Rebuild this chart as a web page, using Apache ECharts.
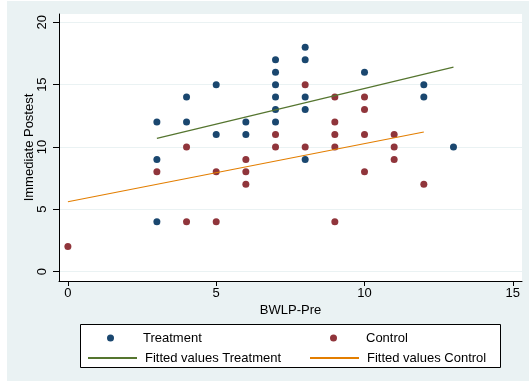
<!DOCTYPE html>
<html>
<head>
<meta charset="utf-8">
<script src="https://cdn.jsdelivr.net/npm/echarts@6/dist/echarts.min.js"></script>
<style>
  html, body { margin: 0; padding: 0; background: #fff; }
  #bg { position: absolute; left: 7px; top: 1px; width: 522px; height: 380px; background: #eaf2f3; }
  #chart { position: absolute; left: 0; top: 0; width: 529px; height: 381px; }
</style>
</head>
<body>
<div id="bg"></div>
<div id="chart"></div>
<script>
// BWLP-Pre vs Immediate Postest
const treatment = [
  [3, 12], [3, 9], [3, 4], [4, 14], [4, 12], [5, 15], [5, 11], [6, 12], [6, 11],
  [7, 17], [7, 16], [7, 15], [7, 14], [7, 13], [7, 12],
  [8, 18], [8, 17], [8, 14], [8, 13], [8, 9],
  [10, 16], [12, 15], [12, 14], [13, 10]
];
const control = [
  [0, 2], [3, 8], [4, 10], [4, 4], [5, 8], [5, 4], [6, 9], [6, 8], [6, 7],
  [7, 11], [7, 10], [8, 15], [8, 10],
  [9, 14], [9, 12], [9, 11], [9, 10], [9, 4],
  [10, 14], [10, 13], [10, 11], [10, 8],
  [11, 11], [11, 10], [11, 9], [12, 7]
];
const fitTreatment = [[3, 10.69], [13, 16.41]];
const fitControl = [[0, 5.6], [12, 11.2]];
const xTicks = [0, 5, 10, 15];
const yTicks = [0, 5, 10, 15, 20];

const FONT = "Liberation Sans";
const BLUE = "#1a476f";
const RED = "#90353b";
const GREEN = "#55752f";
const ORANGE = "#e37e00";

const chart = echarts.init(document.getElementById("chart"));

// one legend per entry so the 2x2 layout lines up like Stata's
const legendItem = (name, left, top, icon) => ({
  data: [icon ? { name, icon } : name],
  left,
  top,
  padding: 0,
  itemWidth: 49,
  itemHeight: icon ? 7 : 2,
  selectedMode: false,
  textStyle: { color: "#000", fontSize: 13, fontFamily: FONT, padding: [0, 0, 0, 3] },
});

chart.setOption({
  animation: false,
  textStyle: { fontFamily: FONT },
  grid: {
    left: 59, right: 7, top: 14, bottom: 100,
    show: true, backgroundColor: "#fff", borderWidth: 0,
  },
  xAxis: {
    type: "value",
    min: -0.3,
    max: 15.31,
    name: "BWLP-Pre",
    nameLocation: "middle",
    nameGap: 23,
    nameMoveOverlap: false,
    nameTextStyle: { color: "#000", fontSize: 13, fontFamily: FONT },
    axisLine: { onZero: false, lineStyle: { color: "#000", width: 1 } },
    axisTick: { customValues: xTicks, length: 5, lineStyle: { color: "#000" } },
    axisLabel: { customValues: xTicks, color: "#000", fontSize: 13, margin: 6, fontFamily: FONT },
    splitLine: { show: false },
  },
  yAxis: {
    type: "value",
    min: -0.76,
    max: 20.67,
    name: "Immediate Postest",
    nameLocation: "middle",
    nameGap: 23,
    nameMoveOverlap: false,
    nameTextStyle: { color: "#000", fontSize: 13, fontFamily: FONT },
    axisLine: { show: true, onZero: false, lineStyle: { color: "#000", width: 1 } },
    axisTick: { show: true, customValues: yTicks, length: 6, lineStyle: { color: "#000" } },
    axisLabel: { customValues: yTicks, rotate: 90, color: "#000", fontSize: 13, margin: 10, fontFamily: FONT },
    splitLine: { show: true, lineStyle: { color: "#eaf2f3", width: 1 } },
  },
  legend: [
    legendItem("Treatment", 107, 331.5, "circle"),
    legendItem("Control", 330, 331.5, "circle"),
    legendItem("Fitted values Treatment", 87, 351.5),
    legendItem("Fitted values Control", 309, 351.5),
  ],
  graphic: [
    {
      type: "rect",
      shape: { x: 80.5, y: 324.5, width: 420, height: 43 },
      style: { fill: "#fff", stroke: "#000", lineWidth: 1 },
      z: 0,
    },
  ],
  series: [
    {
      name: "Treatment",
      type: "scatter",
      data: treatment,
      symbol: "circle",
      symbolSize: 7,
      itemStyle: { color: BLUE, opacity: 1 },
    },
    {
      name: "Control",
      type: "scatter",
      data: control,
      symbol: "circle",
      symbolSize: 7,
      itemStyle: { color: RED, opacity: 1 },
    },
    {
      name: "Fitted values Treatment",
      type: "line",
      data: fitTreatment,
      symbol: "none",
      lineStyle: { color: GREEN, width: 1.2 },
      itemStyle: { color: GREEN },
    },
    {
      name: "Fitted values Control",
      type: "line",
      data: fitControl,
      symbol: "none",
      lineStyle: { color: ORANGE, width: 1.2 },
      itemStyle: { color: ORANGE },
    },
  ],
});
</script>
</body>
</html>
